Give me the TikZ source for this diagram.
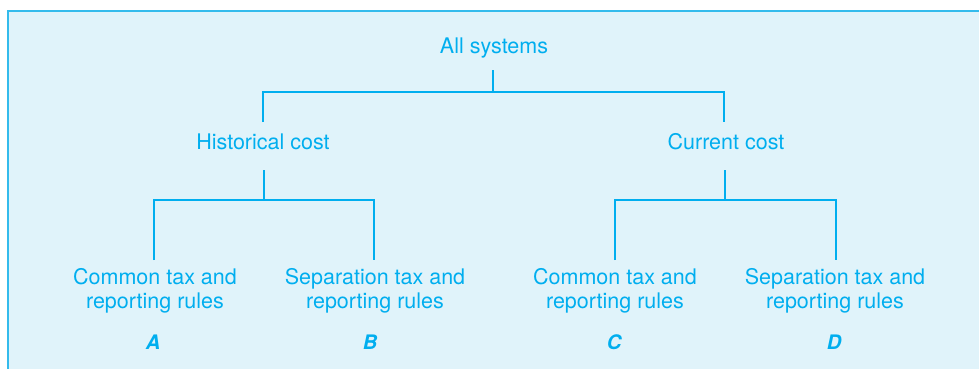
\documentclass[tikz,border=0pt]{standalone}
\usepackage{fontspec}
\setmainfont{TeX Gyre Heros}
\usetikzlibrary{calc}
\definecolor{cy}{HTML}{00AEEF}
\definecolor{bgc}{HTML}{E0F3FA}
\definecolor{bdc}{HTML}{34BBEC}
\begin{document}
\begin{tikzpicture}[x=1pt,y=-1pt,
  lbl/.style={text=cy,inner sep=0pt,font=\fontsize{21.5}{24}\selectfont,align=center},
  tag/.style={text=cy,inner sep=0pt,font=\fontsize{20}{22}\selectfont\bfseries\itshape,anchor=base},
  conn/.style={draw=cy,line width=2.8pt,line join=miter}]
\useasboundingbox (0,0) rectangle (979,369);
\fill[bgc] (8,11) rectangle (979,369);
\draw[bdc,line width=1.5pt] (8,369) -- (8,11) -- (979,11);
% nodes
\node[lbl,anchor=base] (all) at (494,53) {All systems};
\node[lbl,anchor=base] (hist) at (263,149) {Historical cost};
\node[lbl,anchor=base] (curr) at (726,149) {Current cost};
\node[lbl] (la) at (155,291) {Common tax and\\reporting rules};
\node[lbl] (lb) at (375,291) {Separation tax and\\reporting rules};
\node[lbl] (lc) at (615,291) {Common tax and\\reporting rules};
\node[lbl] (ld) at (835,291) {Separation tax and\\reporting rules};
\node[tag] (ta) at (153,349) {A};
\node[tag] (tb) at (370,349) {B};
\node[tag] (tc) at (614,349) {C};
\node[tag] (td) at (834,349) {D};
% junction coordinates
\coordinate (j0) at (493,92);
\coordinate (j1) at (264,200);
\coordinate (j2) at (725,200);
\coordinate (allb) at (493,70);
\coordinate (histt) at (263,122);
\coordinate (currt) at (724,122);
\coordinate (histb) at (264,170);
\coordinate (currb) at (725,170);
\coordinate (lat) at (154,260);
\coordinate (lbt) at (374,260);
\coordinate (lct) at (615,260);
\coordinate (ldt) at (836,260);
% connectors
\draw[conn] (allb) -- (j0);
\draw[conn] (histt) |- (j0) -| (currt);
\draw[conn] (histb) -- (j1);
\draw[conn] (lat) |- (j1) -| (lbt);
\draw[conn] (currb) -- (j2);
\draw[conn] (lct) |- (j2) -| (ldt);
\end{tikzpicture}
\end{document}
